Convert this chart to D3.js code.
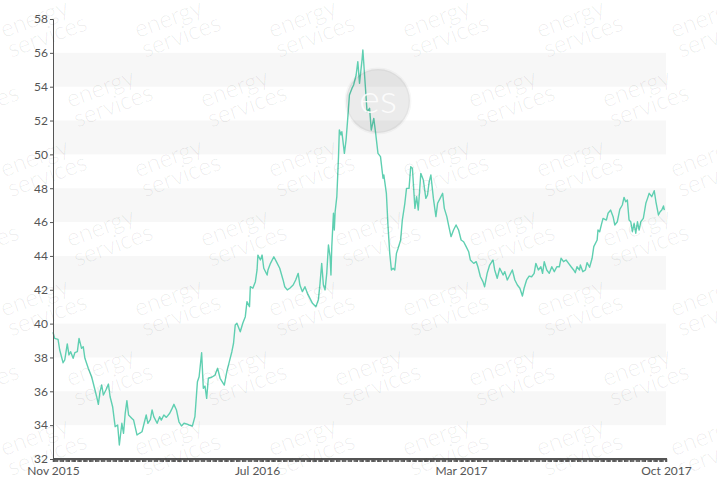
<!DOCTYPE html>
<html>
<head>
<meta charset="utf-8">
<script src="https://cdn.jsdelivr.net/npm/d3@7"></script>
<style>
  body { margin: 0; background: #fff; }
  .axis text { font-family: Lato, "Open Sans", sans-serif; font-size: 12px; fill: #555; }
  .axis path, .axis line { stroke: #555; }
  .watermark text { font-family: Lato, "Open Sans", sans-serif; }
</style>
</head>
<body>
<div id="chart"></div>
<script>
// daily-ish price readings, Nov 2015 - Oct 2017
var dates = [
  "2015-11-01","2015-11-03","2015-11-07","2015-11-09","2015-11-13","2015-11-15","2015-11-18","2015-11-20","2015-11-22","2015-11-25","2015-11-27","2015-11-30",
  "2015-12-02","2015-12-05","2015-12-07","2015-12-09","2015-12-13","2015-12-17","2015-12-21","2015-12-23","2015-12-25","2015-12-27","2015-12-29","2015-12-31",
  "2016-01-03","2016-01-06","2016-01-08","2016-01-11","2016-01-14","2016-01-17","2016-01-19","2016-01-22","2016-01-24","2016-01-26","2016-01-28","2016-01-30",
  "2016-02-03","2016-02-05","2016-02-09","2016-02-12","2016-02-15","2016-02-17","2016-02-20","2016-02-22","2016-02-25","2016-02-27","2016-02-29",
  "2016-03-04","2016-03-07","2016-03-09","2016-03-12","2016-03-15","2016-03-19","2016-03-21","2016-03-24","2016-03-27","2016-03-30",
  "2016-04-02","2016-04-05","2016-04-08","2016-04-11","2016-04-15","2016-04-18","2016-04-21","2016-04-23","2016-04-26","2016-04-28","2016-04-30",
  "2016-05-02","2016-05-04","2016-05-08","2016-05-12","2016-05-15","2016-05-18","2016-05-23","2016-05-26","2016-05-29",
  "2016-06-01","2016-06-03","2016-06-05","2016-06-07","2016-06-11","2016-06-14","2016-06-17","2016-06-19","2016-06-22","2016-06-23","2016-06-26","2016-06-29",
  "2016-07-01","2016-07-02","2016-07-05","2016-07-07","2016-07-09","2016-07-13","2016-07-14","2016-07-17","2016-07-21","2016-07-24","2016-07-28",
  "2016-08-01","2016-08-03","2016-08-06","2016-08-09","2016-08-13","2016-08-16","2016-08-19","2016-08-21","2016-08-24","2016-08-27","2016-08-30",
  "2016-09-02","2016-09-05","2016-09-09","2016-09-12","2016-09-14","2016-09-16","2016-09-18","2016-09-20","2016-09-22","2016-09-24","2016-09-26","2016-09-27","2016-09-28","2016-09-30",
  "2016-10-01","2016-10-02","2016-10-04","2016-10-06","2016-10-07","2016-10-09","2016-10-10","2016-10-13","2016-10-15","2016-10-17","2016-10-19","2016-10-22","2016-10-24","2016-10-27","2016-10-29","2016-10-31",
  "2016-11-03","2016-11-04","2016-11-07","2016-11-09","2016-11-12","2016-11-14","2016-11-17","2016-11-19","2016-11-22","2016-11-25","2016-11-28","2016-11-29",
  "2016-12-02","2016-12-04","2016-12-06","2016-12-08","2016-12-10","2016-12-12","2016-12-14","2016-12-16","2016-12-19","2016-12-21","2016-12-24","2016-12-26","2016-12-29","2016-12-31",
  "2017-01-02","2017-01-05","2017-01-07","2017-01-09","2017-01-12","2017-01-15","2017-01-18","2017-01-20","2017-01-22","2017-01-24","2017-01-27","2017-01-30",
  "2017-02-01","2017-02-04","2017-02-07","2017-02-09","2017-02-12","2017-02-14","2017-02-17","2017-02-20","2017-02-23","2017-02-26",
  "2017-03-01","2017-03-04","2017-03-07","2017-03-10","2017-03-12","2017-03-16","2017-03-19","2017-03-21","2017-03-24","2017-03-27","2017-03-29",
  "2017-04-01","2017-04-04","2017-04-08","2017-04-10","2017-04-13","2017-04-16","2017-04-20","2017-04-22","2017-04-25","2017-04-28",
  "2017-05-01","2017-05-04","2017-05-07","2017-05-10","2017-05-13","2017-05-15","2017-05-18","2017-05-21","2017-05-24","2017-05-27","2017-05-29",
  "2017-06-01","2017-06-04","2017-06-06","2017-06-08","2017-06-11","2017-06-14","2017-06-17","2017-06-20","2017-06-23","2017-06-26","2017-06-28",
  "2017-07-01","2017-07-04","2017-07-07","2017-07-10","2017-07-13","2017-07-15","2017-07-17","2017-07-20","2017-07-21","2017-07-24","2017-07-27","2017-07-29",
  "2017-08-01","2017-08-04","2017-08-06","2017-08-10","2017-08-11","2017-08-13","2017-08-15","2017-08-17","2017-08-21","2017-08-23","2017-08-26","2017-08-29","2017-08-31",
  "2017-09-03","2017-09-06","2017-09-09","2017-09-11","2017-09-13","2017-09-15","2017-09-17","2017-09-19","2017-09-21","2017-09-23","2017-09-25","2017-09-27","2017-09-29",
  "2017-10-01","2017-10-04","2017-10-07","2017-10-09","2017-10-11","2017-10-14","2017-10-17","2017-10-19","2017-10-22","2017-10-24","2017-10-26","2017-10-28","2017-10-29"
];

var prices = [
  39.49,39.13,39.07,38.44,37.69,37.85,38.80,38.15,38.34,37.95,38.28,38.34,
  39.13,38.54,38.64,37.95,37.36,36.86,36.08,35.68,35.23,35.98,36.37,35.78,
  36.08,36.43,35.68,35.09,33.91,34.01,32.83,34.11,33.52,34.70,35.45,34.60,
  34.40,34.30,33.42,33.52,33.61,34.01,34.60,34.11,34.34,34.90,34.50,
  34.11,34.50,34.30,34.60,34.46,34.70,34.90,35.23,34.90,34.20,
  33.95,34.11,34.07,34.01,33.95,34.50,36.57,36.86,38.28,36.18,36.31,
  35.58,36.77,36.83,36.96,37.36,36.77,36.37,37.16,37.75,
  38.34,38.84,39.92,40.02,39.52,40.02,40.41,41.30,41.00,42.18,42.09,42.48,
  43.17,44.05,43.76,44.05,43.27,42.87,43.17,43.56,43.95,43.66,43.27,
  42.58,42.18,41.99,42.09,42.28,42.58,42.97,42.28,41.89,42.18,41.79,
  41.49,41.20,41.00,41.40,42.38,43.56,42.28,41.99,42.97,44.65,43.95,42.87,44.55,46.52,
  45.53,46.61,47.50,49.87,51.44,51.15,51.34,50.06,50.85,52.13,53.51,53.90,54.10,54.69,55.48,54.20,
  55.58,56.17,54.00,52.52,52.72,51.44,52.13,51.34,50.06,49.87,48.59,48.78,
  47.70,45.73,44.15,43.17,43.27,43.17,44.15,44.45,44.94,46.12,47.11,47.99,47.99,49.27,
  49.18,46.81,47.50,46.71,48.88,48.49,47.40,47.60,48.39,48.78,47.40,46.32,
  47.11,47.40,47.70,46.81,46.32,45.83,45.14,45.53,45.83,45.53,
  44.94,44.84,44.55,44.25,43.76,43.56,43.66,43.36,42.77,42.48,42.18,
  42.97,43.46,43.76,43.17,42.68,43.27,42.87,43.07,42.58,42.87,
  43.17,42.58,42.28,42.09,41.63,42.09,42.58,42.81,42.77,42.97,43.56,
  43.17,43.36,42.97,43.66,43.17,42.97,43.36,43.07,43.36,43.36,43.86,
  43.66,43.76,43.56,43.36,43.17,43.01,43.36,43.17,43.46,43.07,43.17,43.60,
  43.33,43.86,44.55,44.94,45.53,45.43,45.83,46.22,46.12,46.52,46.71,46.32,45.83,
  46.02,46.75,47.01,47.46,47.20,47.30,46.12,46.02,45.43,45.93,45.34,46.02,45.53,
  46.02,46.22,47.11,47.40,47.70,47.50,47.85,47.20,46.42,46.61,46.71,46.95,46.71
];

var yTicks = [32, 34, 36, 38, 40, 42, 44, 46, 48, 50, 52, 54, 56, 58];
var xDomain = ["2015-11-01", "2017-10-31"];
var xTickDates = ["2015-11-01", "2016-07-01", "2017-03-01", "2017-10-31"];
var watermarkLines = ["energy", "services"];
var logoText = "es";

(function() {
  var margin = {top: 19, right: 51, bottom: 19, left: 53}
  var width = 717 - margin.left - margin.right
  var height = 478 - margin.top - margin.bottom

  var parseDate = d3.timeParse("%Y-%m-%d")
  var formatTick = d3.timeFormat("%b %Y")

  var datapoints = dates.map(function(d, i) {
    return { date: parseDate(d), price: prices[i] }
  })

  var xPositionScale = d3.scaleTime()
    .domain(xDomain.map(parseDate))
    .range([0, width])
  var yPositionScale = d3.scaleLinear()
    .domain(d3.extent(yTicks))
    .range([height, 0])

  var root = d3.select("#chart")
    .append("svg")
    .attr("width", 717)
    .attr("height", 478)

  var svg = root.append("g")
    .attr("transform", "translate(" + margin.left + "," + margin.top + ")")

  // alternating grey stripes
  var stripes = yTicks.filter(function(d, i) { return i % 2 === 1 && i + 1 < yTicks.length })
  svg.append("g")
    .attr("class", "stripes")
    .selectAll("rect")
    .data(stripes)
    .enter().append("rect")
    .attr("x", 0)
    .attr("width", width)
    .attr("y", d => yPositionScale(d + 2))
    .attr("height", d => yPositionScale(d) - yPositionScale(d + 2))
    .attr("fill", "#f7f7f7")

  var line = d3.line()
    .x(d => xPositionScale(d.date))
    .y(d => yPositionScale(d.price))

  svg.append("path")
    .datum(datapoints)
    .attr("fill", "none")
    .attr("stroke", "#5fcfb1")
    .attr("stroke-width", 1.4)
    .attr("stroke-linejoin", "round")
    .attr("d", line)

  // one tiny tick per trading day, like the original
  var domainDates = xPositionScale.domain()
  var tradingDays = d3.timeDay.range(domainDates[0], d3.timeDay.offset(domainDates[1], 1))
    .filter(d => d.getDay() !== 0 && d.getDay() !== 6)

  svg.append("g")
    .attr("class", "axis axis-x-minor")
    .attr("transform", "translate(0," + (height - 1) + ")")
    .call(d3.axisBottom(xPositionScale).tickValues(tradingDays).tickFormat("").tickSize(4))
    .call(g => g.selectAll(".tick line").attr("stroke", "#555"))

  var xAxis = d3.axisBottom(xPositionScale)
    .tickValues(xTickDates.map(parseDate))
    .tickFormat(formatTick)
    .tickSize(3)
    .tickPadding(4)
  svg.append("g")
    .attr("class", "axis axis-x")
    .attr("transform", "translate(0," + height + ")")
    .call(xAxis)
    .call(g => g.select(".domain").attr("stroke-width", 1.5))

  var yAxis = d3.axisLeft(yPositionScale)
    .tickValues(yTicks)
    .tickSize(3)
    .tickPadding(2)
  svg.append("g")
    .attr("class", "axis axis-y")
    .call(yAxis)

  // watermark pattern over everything
  var marks = []
  d3.range(7).forEach(function(r) {
    var start = r % 2 === 0 ? 4 : -64
    for (var x = start; x < 717; x += 134) {
      if (r === 1 && x === 338) continue
      marks.push({ x: x, y: 38 + r * 69.7 })
    }
  })

  var wm = root.append("g").attr("class", "watermark")
  var tiles = wm.selectAll(".tile")
    .data(marks)
    .enter().append("g")
    .attr("class", "tile")
    .attr("transform", d => "translate(" + d.x + "," + d.y + ") rotate(-20)")
  tiles.selectAll("text")
    .data(watermarkLines)
    .enter().append("text")
    .attr("y", (d, i) => i * 21)
    .attr("font-size", 24)
    .attr("font-weight", 300)
    .attr("fill", "#000")
    .attr("fill-opacity", 0.08)
    .text(d => d)

  var logo = wm.append("g").attr("transform", "translate(378,101)")
  logo.append("circle")
    .attr("r", 32)
    .attr("fill", "#000")
    .attr("fill-opacity", 0.08)
    .attr("stroke", "#000")
    .attr("stroke-opacity", 0.03)
    .attr("stroke-width", 3)
  logo.append("text")
    .attr("text-anchor", "middle")
    .attr("y", 12)
    .attr("font-size", 40)
    .attr("font-weight", 300)
    .attr("fill", "#fff")
    .attr("fill-opacity", 0.85)
    .text(logoText)
})()
</script>
</body>
</html>
